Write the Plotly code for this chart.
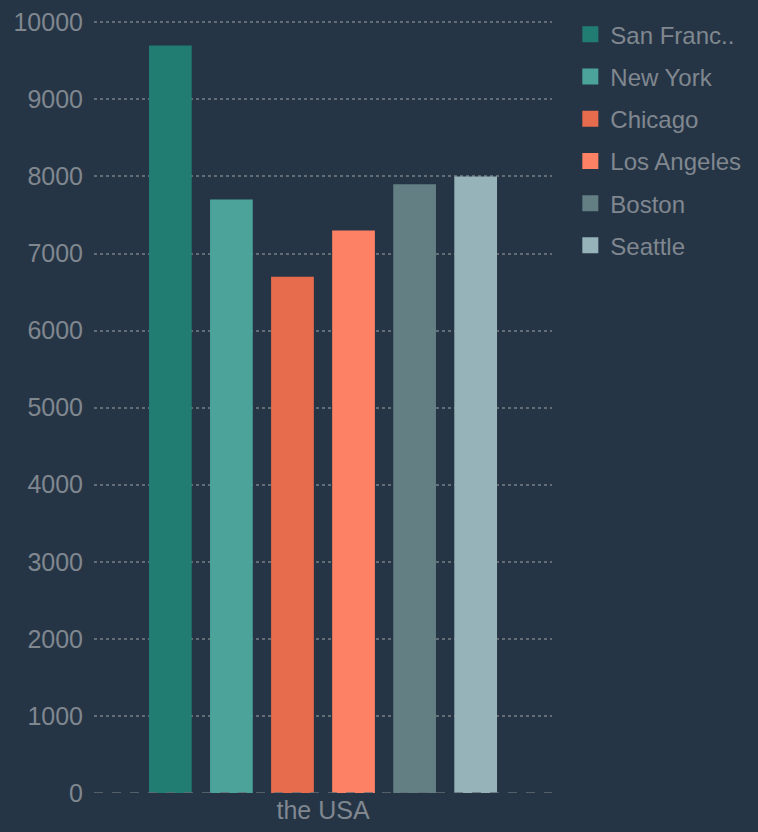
import plotly.graph_objects as go

# data
category = ['the USA']
cities = ['San Franc..', 'New York', 'Chicago', 'Los Angeles', 'Boston', 'Seattle']
values = [9700, 7700, 6700, 7300, 7900, 8000]
colors = ['#217d71', '#4ba39a', '#e76c4d', '#fc8165', '#637f83', '#95b3b8']

bg = '#253546'
txt = '#80878f'
grid = '#646d76'

fig = go.Figure()
for name, val, col in zip(cities, values, colors):
    fig.add_trace(go.Bar(x=category, y=[val], name=name, marker_color=col,
                         marker_line_width=0, legendgroup=name, showlegend=False))
    # bigger square in the legend
    fig.add_trace(go.Scatter(x=[None], y=[None], mode='markers', name=name,
                             legendgroup=name,
                             marker=dict(symbol='square', size=16, color=col)))

fig.add_hline(y=0, line=dict(color=grid, width=1.5, dash='dash'), layer='above')

fig.update_layout(
    width=758, height=832,
    barmode='group', bargap=0.2, bargroupgap=0.3,
    paper_bgcolor=bg, plot_bgcolor=bg,
    font=dict(family='Liberation Sans, Arial, sans-serif', size=25, color=txt),
    margin=dict(l=94, r=206, t=17, b=39),
    legend=dict(x=1.04, xanchor='left', y=1.01, yanchor='top',
                font=dict(size=24, color=txt), tracegroupgap=8,
                itemsizing='trace'),
)
fig.update_xaxes(showgrid=False, showline=False, ticks='', tickfont=dict(size=25),
                 automargin=False)
fig.update_yaxes(range=[0, 10030], dtick=1000, tickformat='d', showgrid=True,
                 gridcolor=grid, gridwidth=1.5, griddash='dot', zeroline=False,
                 showline=False, ticks='', tickfont=dict(size=25),
                 ticklabelstandoff=10, automargin=False)

fig.write_html('out.html', config={'displayModeBar': False},
               post_script="document.body.style.margin='0';")
